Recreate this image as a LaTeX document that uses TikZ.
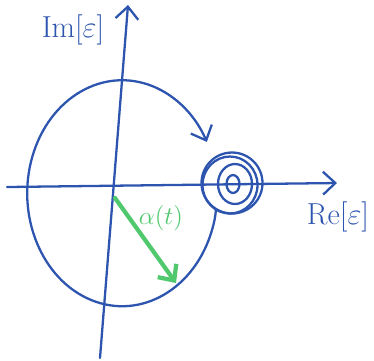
\documentclass[tikz,border=0pt]{standalone}
\usetikzlibrary{arrows.meta}
\definecolor{penblue}{RGB}{45,85,175}
\definecolor{pengreen}{RGB}{80,200,110}
\begin{document}
\begin{tikzpicture}[x=0.02cm,y=-0.02cm,>={Straight Barb[length=7pt,width=13pt]},line cap=round,line join=round]
  \tikzstyle{ink}=[draw=penblue, line width=1.3pt]
  \tikzstyle{hl}=[draw=pengreen, line width=2.4pt]
  \tikzstyle{lbl}=[text=penblue, font=\LARGE, inner sep=1pt]

  \useasboundingbox (0,0) rectangle (374,360);

  % axes
  \coordinate (xs) at (7,187);
  \coordinate (xe) at (337,183);
  \coordinate (ys) at (100,358);
  \coordinate (ye) at (128,5);
  \draw[ink,->] (xs) -- (xe);
  \draw[ink,->] (ys) -- (ye);

  \node[lbl] (im) at (73,30) {$\mathrm{Im}[\varepsilon]$};
  \node[lbl] (re) at (338,217) {$\mathrm{Re}[\varepsilon]$};

  % orbit round the origin, leaving the spiral
  \coordinate (sp) at (216,209);
  \coordinate (ob) at (212,230);
  \draw[ink,->] (sp) to[out=-95,in=74] (ob)
    arc[start angle=-19, end angle=-333, x radius=1.9cm, y radius=2.26cm];

  % spiral at the end point
  \draw[ink] (233,184) ellipse [x radius=0.13cm, y radius=0.18cm];
  \draw[ink] (235,184) ellipse [x radius=0.34cm, y radius=0.40cm];
  \draw[ink] (230,185) ellipse [x radius=0.55cm, y radius=0.57cm];
  \draw[ink] (232,183) ellipse [x radius=0.61cm, y radius=0.61cm];

  % phase
  \coordinate (as) at (115,198);
  \coordinate (ae) at (176,283);
  \draw[hl,->] (as) -- (ae);
  \node[text=pengreen, font=\Large, inner sep=1pt] (al) at (161,218) {$\alpha(t)$};
\end{tikzpicture}
\end{document}
